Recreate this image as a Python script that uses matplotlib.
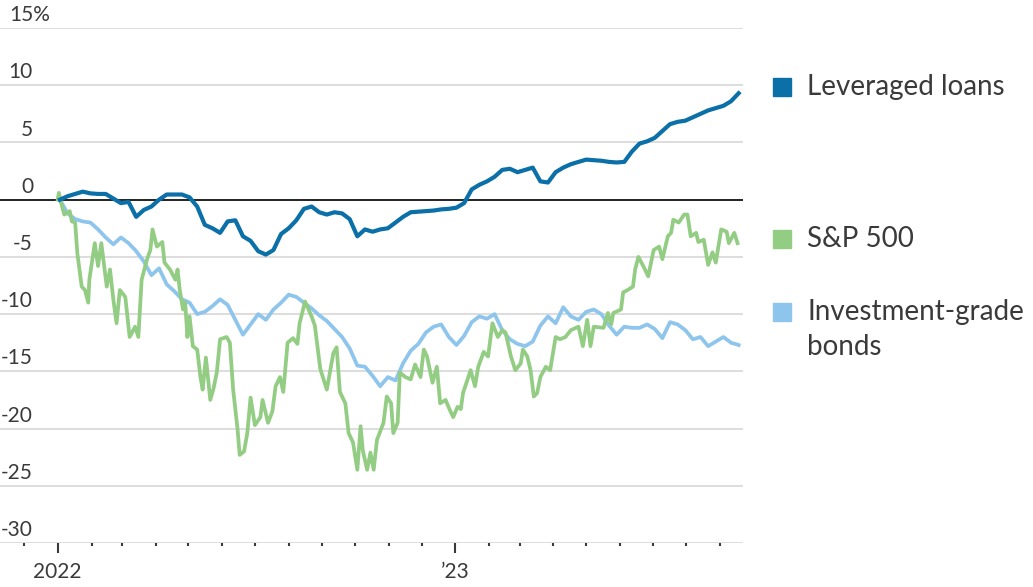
import matplotlib
matplotlib.use("Agg")
import matplotlib.pyplot as plt
import matplotlib.dates as mdates
import matplotlib.patches as mpatches
import pandas as pd

# colours
LOANS = "#0b6fa8"
SPX = "#93cd84"
IG = "#8ec5ec"
GRID = "#dddddd"
TXT = "#3a3a3a"

plt.rcParams["font.family"] = ["Lato", "DejaVu Sans"]

# ---- data (cumulative % change since start of 2022) ----
weeks = pd.date_range("2022-01-03", periods=90, freq="7D")

loans = [0.0, 0.3, 0.5, 0.7, 0.55, 0.5, 0.5, 0.1, -0.3, -0.2,
         -1.5, -0.9, -0.6, 0.0, 0.45, 0.45, 0.45, 0.2, -0.6, -2.2,
         -2.5, -2.9, -1.9, -1.8, -3.2, -3.6, -4.5, -4.8, -4.4, -3.0,
         -2.5, -1.8, -0.8, -0.6, -1.1, -1.3, -1.1, -1.2, -1.7, -3.2,
         -2.6, -2.8, -2.6, -2.5, -2.0, -1.5, -1.1, -1.05, -1.0, -0.95,
         -0.85, -0.8, -0.7, -0.3, 0.9, 1.3, 1.6, 2.0, 2.6, 2.7,
         2.4, 2.6, 2.8, 1.6, 1.5, 2.4, 2.8, 3.1, 3.3, 3.5,
         3.45, 3.4, 3.3, 3.25, 3.3, 4.2, 4.9, 5.1, 5.4, 6.0,
         6.6, 6.8, 6.9, 7.2, 7.5, 7.8, 8.0, 8.2, 8.6, 9.3]

ig_bonds = [0.0, -1.2, -1.7, -1.9, -2.0, -2.6, -3.3, -3.9, -3.3, -3.8,
            -4.5, -5.4, -6.6, -6.0, -7.4, -8.0, -8.7, -9.0, -10.0, -9.8,
            -9.3, -8.7, -9.2, -10.5, -11.8, -10.9, -10.0, -10.5, -9.6, -9.0,
            -8.3, -8.5, -9.0, -9.5, -10.1, -10.6, -11.3, -12.0, -13.0, -14.5,
            -14.6, -15.4, -16.3, -15.5, -15.8, -14.3, -13.2, -12.6, -11.6, -11.1,
            -10.9, -12.0, -12.7, -11.9, -10.7, -10.2, -10.4, -10.0, -11.4, -12.2,
            -12.6, -12.8, -12.4, -11.0, -10.2, -10.8, -9.4, -10.2, -10.5, -9.8,
            -9.6, -10.0, -11.0, -11.8, -11.1, -11.2, -11.2, -10.9, -11.3, -12.1,
            -10.7, -10.9, -11.4, -12.2, -12.0, -12.8, -12.4, -12.0, -12.5, -12.7]

# S&P 500 read at irregular days (days after 2022-01-01)
sp_days = [0, 1, 4, 6, 11, 13, 16, 18, 22, 25, 28, 29, 34, 37, 40, 45, 48, 51, 54, 57,
           62, 66, 71, 74, 77, 82, 85, 87, 91, 96, 98, 103, 108, 110, 112, 115, 117, 119, 121, 124,
           128, 131, 133, 136, 140, 143, 146, 149, 155, 158, 161, 165, 167, 171, 174, 177, 181, 186, 188, 193,
           197, 200, 204, 207, 211, 216, 220, 222, 227, 233, 236, 241, 247, 253, 256, 259, 264, 267, 271, 275,
           278, 280, 284, 287, 290, 293, 299, 302, 306, 308, 312, 314, 319, 324, 328, 333, 336, 339, 344, 348,
           351, 356, 360, 363, 367, 370, 372, 379, 383, 386, 391, 395, 399, 404, 408, 411, 416, 420, 425, 427,
           431, 434, 437, 440, 443, 448, 452, 457, 461, 466, 471, 478, 482, 485, 486, 489, 492, 501, 505, 508,
           510, 517, 519, 523, 528, 530, 533, 538, 542, 547, 552, 555, 560, 563, 565, 570, 575, 578, 581, 586,
           588, 593, 597, 601, 604, 609, 614, 616, 621, 624]
sp500 = [0.0, 0.6, -0.6, -1.3, -1.0, -1.9, -2.0, -4.7, -7.6, -7.9, -9.0, -7.0, -3.8, -5.8, -3.8, -7.6, -6.1, -8.7, -10.8, -7.9,
         -8.5, -12.0, -11.1, -12.0, -7.0, -5.2, -4.4, -2.6, -4.1, -3.7, -5.5, -6.1, -7.0, -6.1, -7.9, -9.6, -9.0, -12.0, -10.2, -12.8,
         -13.1, -15.5, -16.6, -13.8, -17.5, -16.5, -15.1, -12.2, -12.0, -12.5, -16.6, -20.0, -22.3, -22.0, -20.4, -17.3, -19.7, -19.0, -17.5, -19.5,
         -18.5, -16.3, -15.5, -16.8, -12.5, -12.1, -12.6, -10.8, -8.9, -10.2, -11.0, -14.8, -16.6, -13.4, -12.9, -16.8, -17.8, -20.4, -21.2, -23.6,
         -19.8, -21.9, -23.6, -22.1, -23.6, -21.0, -19.5, -17.2, -17.8, -20.4, -19.5, -15.1, -15.5, -15.7, -14.4, -15.5, -13.1, -13.7, -16.0, -14.6,
         -17.8, -17.5, -18.4, -19.0, -18.1, -18.3, -16.9, -14.9, -16.3, -14.6, -13.3, -13.7, -10.8, -12.0, -11.4, -11.6, -13.7, -14.9, -14.3, -13.1,
         -13.7, -14.9, -17.2, -16.9, -15.5, -14.6, -14.9, -12.0, -12.2, -12.0, -11.4, -11.1, -12.8, -11.1, -10.5, -12.8, -11.1, -11.2, -9.9, -10.9,
         -9.9, -9.6, -8.1, -7.9, -7.6, -6.1, -5.0, -5.9, -6.7, -4.4, -4.1, -5.2, -3.2, -2.9, -1.75, -2.0, -1.3, -1.3, -3.2, -2.9,
         -3.7, -3.5, -5.7, -4.6, -5.5, -2.6, -2.8, -3.8, -2.9, -3.8]
sp_dates = pd.Timestamp("2022-01-01") + pd.to_timedelta(sp_days, unit="D")

y_ticks = [15, 10, 5, 0, -5, -10, -15, -20, -25, -30]

# ---- figure ----
W, H = 1033, 587
fig = plt.figure(figsize=(W / 100, H / 100), dpi=100)
ax = fig.add_axes([0, 1 - 543 / H, 743 / W, (543 - 28) / H])
ax.set_facecolor("white")

for v in y_ticks:
    if v == 0:
        continue
    ax.axhline(v, color=GRID, lw=1.4, zorder=0)
ax.axhline(0, color="#111111", lw=1.3, zorder=2)

ax.plot(weeks, ig_bonds, color=IG, lw=2.7, zorder=3, solid_joinstyle="round")
ax.plot(sp_dates, sp500, color=SPX, lw=2.7, zorder=4, solid_joinstyle="round")
ax.plot(weeks, loans, color=LOANS, lw=3.0, zorder=5, solid_joinstyle="round")

ax.set_ylim(-30, 15)
ax.set_xlim(pd.Timestamp("2021-11-09"), pd.Timestamp("2023-09-22"))

for s in ax.spines.values():
    s.set_visible(False)
ax.set_yticks([])

# y labels sit above gridlines, at the left
for v in y_ticks:
    if v == 15:
        ax.text(9 / 743, v + 0.6, "15%", transform=ax.get_yaxis_transform(),
                ha="left", va="baseline", fontsize=15, color=TXT)
        continue
    ax.text(33 / 743, v + 0.6, f"{v}", transform=ax.get_yaxis_transform(),
            ha="right", va="baseline", fontsize=15, color=TXT)

# x ticks
ax.set_xticks([pd.Timestamp("2022-01-01"), pd.Timestamp("2023-01-01")])
ax.set_xticklabels(["2022", "\u201923"])
ax.xaxis.set_minor_locator(mdates.MonthLocator())
ax.tick_params(axis="x", which="major", length=7, width=1.5, color=TXT,
               pad=7, labelsize=15, labelcolor=TXT)
ax.tick_params(axis="x", which="minor", length=2.5, width=1.5, color=TXT)

# legend
def legend_item(lines, color, baseline):
    sq = 18
    fig.add_artist(mpatches.Rectangle((773 / W, 1 - (baseline + 1) / H), sq / W, sq / H,
                                      transform=fig.transFigure, color=color))
    for k, line in enumerate(lines):
        fig.text(807 / W, 1 - (baseline + 35 * k) / H, line, ha="left", va="baseline",
                 fontsize=20, color=TXT)

legend_item(["Leveraged loans"], LOANS, 95)
legend_item(["S&P 500"], SPX, 247)
legend_item(["Investment-grade", "bonds"], IG, 320)

fig.savefig("out.png", dpi=100, facecolor="white")
